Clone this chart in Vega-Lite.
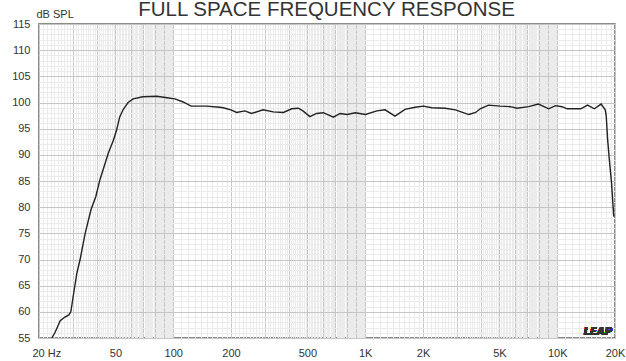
{
  "$schema": "https://vega.github.io/schema/vega-lite/v6.json",
  "width": 576,
  "height": 314,
  "autosize": {"type": "none"},
  "padding": {"left": 39, "top": 24, "right": 11, "bottom": 23},
  "background": "white",
  "config": {
    "font": "Liberation Sans",
    "view": {"stroke": "#666", "strokeWidth": 1.5},
    "axis": {"labelFont": "Liberation Sans", "titleFont": "Liberation Sans"}
  },
  "data": {
    "values": [
      {"freq": 23.3, "db": 55.0}, {"freq": 24.2, "db": 56.0}, {"freq": 25.8, "db": 58.3}, {"freq": 27.3, "db": 59.0},
      {"freq": 28.6, "db": 59.4}, {"freq": 29.3, "db": 60.0}, {"freq": 30.3, "db": 63.5}, {"freq": 31.5, "db": 67.4},
      {"freq": 32.7, "db": 69.9}, {"freq": 34.8, "db": 75.0}, {"freq": 37.3, "db": 79.5}, {"freq": 39.5, "db": 82.0},
      {"freq": 41.5, "db": 85.2}, {"freq": 45.9, "db": 90.3}, {"freq": 48.8, "db": 92.8}, {"freq": 50.7, "db": 94.7},
      {"freq": 52.6, "db": 97.2}, {"freq": 54.8, "db": 98.6}, {"freq": 58.2, "db": 100.0}, {"freq": 61.9, "db": 100.7},
      {"freq": 69.4, "db": 101.1}, {"freq": 82, "db": 101.2}, {"freq": 92.8, "db": 100.9}, {"freq": 102, "db": 100.7},
      {"freq": 112.7, "db": 100.1}, {"freq": 124, "db": 99.3}, {"freq": 149, "db": 99.3}, {"freq": 175, "db": 99.1},
      {"freq": 182, "db": 99.0}, {"freq": 200, "db": 98.6}, {"freq": 214, "db": 98.1}, {"freq": 236, "db": 98.4},
      {"freq": 256, "db": 97.9}, {"freq": 294, "db": 98.6}, {"freq": 332, "db": 98.2}, {"freq": 375, "db": 98.1},
      {"freq": 414, "db": 98.8}, {"freq": 448, "db": 98.9}, {"freq": 474, "db": 98.4}, {"freq": 515, "db": 97.3},
      {"freq": 558, "db": 97.9}, {"freq": 605, "db": 98.05}, {"freq": 683, "db": 97.2}, {"freq": 740, "db": 97.9},
      {"freq": 804, "db": 97.7}, {"freq": 888, "db": 98.05}, {"freq": 1003, "db": 97.7}, {"freq": 1150, "db": 98.4},
      {"freq": 1270, "db": 98.6}, {"freq": 1430, "db": 97.4}, {"freq": 1612, "db": 98.7}, {"freq": 1820, "db": 99.1},
      {"freq": 2010, "db": 99.3}, {"freq": 2220, "db": 99.0}, {"freq": 2610, "db": 98.9}, {"freq": 2950, "db": 98.6},
      {"freq": 3465, "db": 97.7}, {"freq": 3760, "db": 98.1}, {"freq": 3970, "db": 98.8}, {"freq": 4390, "db": 99.5},
      {"freq": 5050, "db": 99.3}, {"freq": 5700, "db": 99.2}, {"freq": 6180, "db": 98.9}, {"freq": 7100, "db": 99.2},
      {"freq": 7990, "db": 99.7}, {"freq": 9030, "db": 98.8}, {"freq": 9800, "db": 99.4}, {"freq": 10600, "db": 99.2},
      {"freq": 11280, "db": 98.8}, {"freq": 13270, "db": 98.8}, {"freq": 14390, "db": 99.5}, {"freq": 15600, "db": 98.8},
      {"freq": 16940, "db": 99.7}, {"freq": 17790, "db": 98.6}, {"freq": 18000, "db": 97.5}, {"freq": 18300, "db": 93.0},
      {"freq": 18700, "db": 89.0}, {"freq": 19200, "db": 84.5}, {"freq": 19700, "db": 78.2}
    ]
  },
  "layer": [
    {
      "mark": {"type": "line", "strokeOpacity": 0},
      "encoding": {
        "x": {
          "field": "freq", "type": "quantitative",
          "scale": {"type": "log", "domain": [20, 20000], "nice": false},
          "axis": {
            "orient": "top", "title": "FULL SPACE FREQUENCY RESPONSE", "labels": false, "ticks": false, "domain": false,
            "titleX": 287, "titleY": -9, "titleAlign": "center", "titleBaseline": "alphabetic", "titleAnchor": null,
            "titleFontSize": 20.5, "titleFontWeight": "normal", "titleColor": "#333", "titleFont": "Liberation Sans",
            "grid": true, "gridColor": "#ebebeb", "gridWidth": 1,
            "values": [20,21,22,23,24,25,26,27,28,29,30,31,32,33,34,35,36,37,38,39,40,41,42,43,44,45,46,47,48,49,50,51,52,53,54,55,56,57,58,59,60,61,62,63,64,65,66,67,68,69,70,71,72,73,74,75,76,77,78,79,80,81,82,83,84,85,86,87,88,89,90,91,92,93,94,95,96,97,98,99,
              100,110,120,130,140,150,160,170,180,190,200,210,220,230,240,250,260,270,280,290,300,310,320,330,340,350,360,370,380,390,400,410,420,430,440,450,460,470,480,490,500,510,520,530,540,550,560,570,580,590,600,610,620,630,640,650,660,670,680,690,700,710,720,730,740,750,760,770,780,790,800,810,820,830,840,850,860,870,880,890,900,910,920,930,940,950,960,970,980,990,
              1000,1100,1200,1300,1400,1500,1600,1700,1800,1900,2000,2100,2200,2300,2400,2500,2600,2700,2800,2900,3000,3100,3200,3300,3400,3500,3600,3700,3800,3900,4000,4100,4200,4300,4400,4500,4600,4700,4800,4900,5000,5100,5200,5300,5400,5500,5600,5700,5800,5900,6000,6100,6200,6300,6400,6500,6600,6700,6800,6900,7000,7100,7200,7300,7400,7500,7600,7700,7800,7900,8000,8100,8200,8300,8400,8500,8600,8700,8800,8900,9000,9100,9200,9300,9400,9500,9600,9700,9800,9900,
              10000,11000,12000,13000,14000,15000,16000,17000,18000,19000,20000]
          }
        },
        "y": {
          "field": "db", "type": "quantitative",
          "scale": {"domain": [55, 115], "nice": false, "zero": false},
          "axis": {
            "orient": "right", "title": null, "labels": false, "ticks": false, "domain": false,
            "minExtent": 0, "maxExtent": 0, "offset": 0,
            "grid": true, "gridColor": "#ebebeb", "gridWidth": 1,
            "values": [55,56,57,58,59,60,61,62,63,64,65,66,67,68,69,70,71,72,73,74,75,76,77,78,79,80,81,82,83,84,85,86,87,88,89,90,91,92,93,94,95,96,97,98,99,100,101,102,103,104,105,106,107,108,109,110,111,112,113,114,115]
          }
        }
      }
    },
    {
      "mark": {"type": "line", "color": "#222", "strokeWidth": 1.4, "clip": true},
      "encoding": {
        "x": {
          "field": "freq", "type": "quantitative",
          "axis": {
            "orient": "bottom", "title": null, "ticks": false, "domain": false,
            "grid": true, "gridColor": "#c6c6c6", "gridWidth": 1,
            "labelFontSize": 11, "labelColor": "#333", "labelPadding": 9,
            "labelOverlap": false, "labelFlush": false, "labelBound": false,
            "labelAlign": {"condition": {"test": "datum.value == 20", "value": "left"}, "value": "center"},
            "labelOffset": {"condition": {"test": "datum.value == 20", "value": -7}, "value": 0},
            "labelExpr": "datum.value == 20 ? '20 Hz' : ((datum.value == 50 || datum.value == 100 || datum.value == 200 || datum.value == 500) ? datum.value + '' : ((datum.value == 1000 || datum.value == 2000 || datum.value == 5000 || datum.value == 10000 || datum.value == 20000) ? (datum.value / 1000) + 'K' : ''))",
            "values": [20,30,40,50,60,70,80,90,100,200,300,400,500,600,700,800,900,1000,2000,3000,4000,5000,6000,7000,8000,9000,10000,20000]
          }
        },
        "y": {
          "field": "db", "type": "quantitative",
          "axis": {
            "orient": "left", "title": "dB SPL", "ticks": false, "domain": false,
            "grid": true, "gridColor": "#c6c6c6", "gridWidth": 1,
            "labelFontSize": 11, "labelColor": "#333", "labelPadding": 9,
            "labelOverlap": false, "labelFlush": false, "labelBound": false,
            "values": [55,60,65,70,75,80,85,90,95,100,105,110,115],
            "titleAngle": 0, "titleX": -3, "titleY": -7, "titleAlign": "left", "titleBaseline": "alphabetic",
            "titleFontSize": 11, "titleFontWeight": "normal", "titleColor": "#333"
          }
        }
      }
    },
    {
      "mark": {"type": "text", "text": "LEAP", "font": "DejaVu Sans", "fontSize": 10, "fontWeight": "bold", "fontStyle": "italic", "align": "right", "baseline": "alphabetic", "dx": -3, "dy": -3, "color": "#333"},
      "encoding": {
        "x": {"datum": 20000, "type": "quantitative", "axis": null},
        "y": {"datum": 55, "type": "quantitative", "axis": null}
      }
    }
  ],
  "resolve": {"axis": {"x": "independent", "y": "independent"}}
}
